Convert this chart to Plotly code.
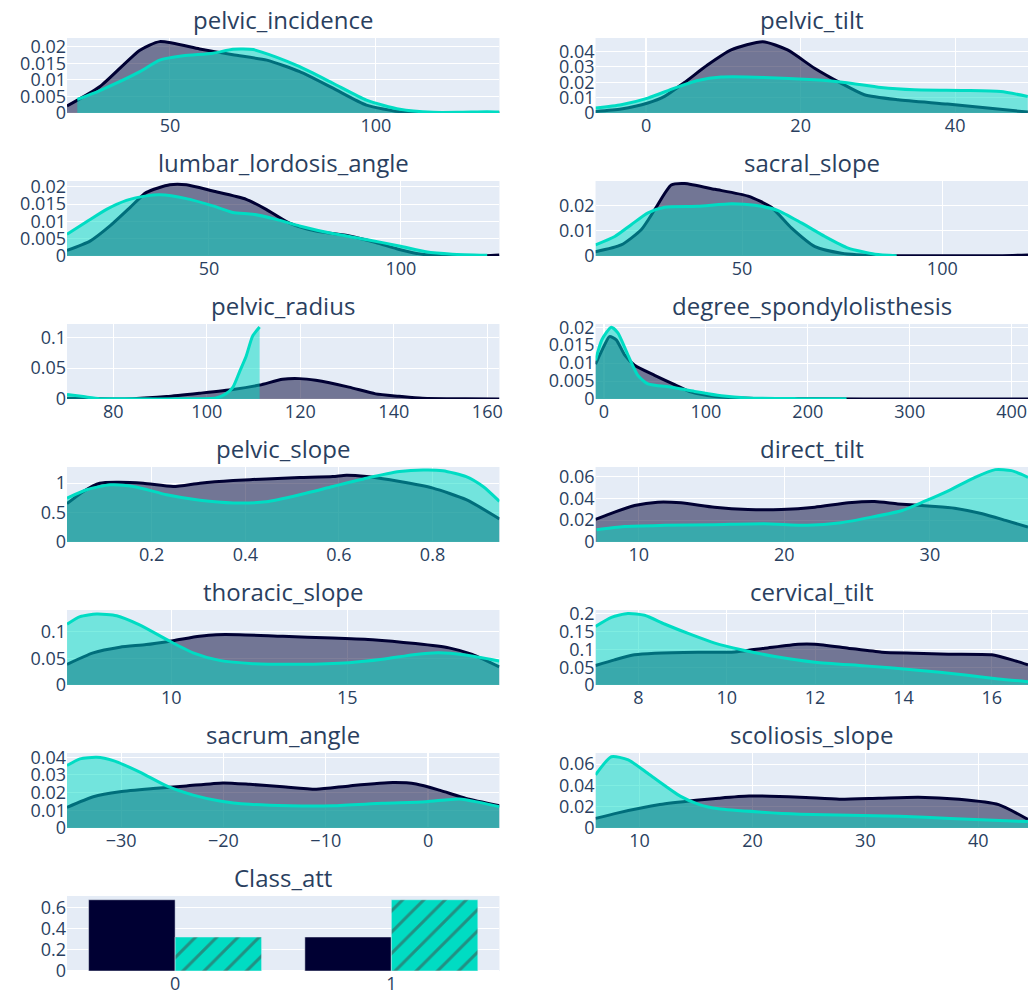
import plotly.graph_objects as go
from plotly.subplots import make_subplots

# ---- density curves, two groups per variable (A = dark, B = teal) ----
pelvic_incidence_a_x = [25, 33, 42.7, 47.5, 57.2, 65.3, 73.5, 81.5, 89.6, 97.7, 105.8, 112, 120, 130]
pelvic_incidence_a_y = [0.0021, 0.008, 0.019, 0.0216, 0.0194, 0.0176, 0.016, 0.0125, 0.0075, 0.0024, 0.0004, 0.0001, 0.0001, 0.0001]
pelvic_incidence_b_x = [27.5, 33, 42.7, 47.5, 53.2, 60.5, 65.3, 70.2, 75.8, 81.5, 89.6, 97.7, 105.8, 113.9, 120, 127, 130]
pelvic_incidence_b_y = [0.0041, 0.0068, 0.0125, 0.016, 0.0173, 0.0181, 0.0193, 0.0192, 0.0169, 0.014, 0.009, 0.0039, 0.0011, 0.0002, 0.0002, 0.0004, 0.0003]

pelvic_tilt_a_x = [-6.55, -3.23, 0.22, 2.38, 4.96, 7.98, 11.0, 15.1, 18.3, 21.8, 25.2, 28.25, 32.6, 39.0, 44.2, 49.4]
pelvic_tilt_a_y = [0.001, 0.0026, 0.0065, 0.0108, 0.0199, 0.0314, 0.0411, 0.0465, 0.0411, 0.0292, 0.0195, 0.0119, 0.0086, 0.0058, 0.0032, 0.0006]
pelvic_tilt_b_x = [-6.55, -3.23, 0.22, 3.67, 6.7, 9.7, 15.3, 21.8, 25.7, 30.4, 34.7, 41.2, 45.9, 49.4]
pelvic_tilt_b_y = [0.0032, 0.0054, 0.0097, 0.0162, 0.0212, 0.0234, 0.0232, 0.0216, 0.0199, 0.0166, 0.0151, 0.0147, 0.014, 0.0108]

lumbar_a_x = [13, 19, 24.2, 29.4, 33.7, 39.8, 44.1, 51.0, 59.7, 64.9, 71.0, 77.9, 86.6, 93.5, 99.6, 105.6, 115.2, 122.1, 125.7]
lumbar_a_y = [0.0016, 0.0043, 0.0087, 0.014, 0.0184, 0.0206, 0.0206, 0.0188, 0.0164, 0.0135, 0.0095, 0.0072, 0.0058, 0.0039, 0.0019, 0.0005, 0.0001, 0.0001, 0.0003]
lumbar_b_x = [13, 18.1, 23.3, 28.5, 33.7, 37.2, 44.1, 51.0, 56.2, 61.4, 67.5, 73.6, 82.2, 90.9, 99.6, 106.5, 113.4, 122.5]
lumbar_b_y = [0.0063, 0.0099, 0.0135, 0.0161, 0.0174, 0.0177, 0.0166, 0.0145, 0.0126, 0.0121, 0.0106, 0.0087, 0.0065, 0.0048, 0.0029, 0.0012, 0.0005, 0.0002]

sacral_a_x = [13.4, 19.8, 24.8, 28.2, 32.3, 35.65, 43.2, 51.5, 57.3, 62.3, 68.2, 74.8, 84.8, 100, 115, 121.4]
sacral_a_y = [0.0017, 0.0044, 0.0104, 0.0184, 0.0281, 0.0287, 0.0264, 0.0237, 0.0193, 0.0111, 0.0037, 0.0011, 0.0001, 0.0001, 0.0001, 0.0004]
sacral_b_x = [13.4, 18.2, 22.3, 26.5, 30.7, 39.0, 47.3, 53.2, 59.0, 64.8, 70.7, 76.5, 83.2, 88.6]
sacral_b_y = [0.0044, 0.0077, 0.0124, 0.0171, 0.0193, 0.0197, 0.0207, 0.0201, 0.018, 0.0131, 0.0077, 0.0031, 0.0007, 0.0001]

radius_a_x = [70.1, 77.1, 84.2, 91.4, 98.5, 105.6, 111.3, 116.2, 119.8, 123.3, 130.4, 136.1, 141.1, 146.1, 155.3, 162.6]
radius_a_y = [0.001, 0.0002, 0.0005, 0.0039, 0.0094, 0.0154, 0.0226, 0.0319, 0.033, 0.0302, 0.0192, 0.0083, 0.0044, 0.0011, 0.0002, 0.0001]
radius_b_x = [70.1, 73.6, 77.1, 84.2, 94.9, 102.0, 104.1, 105.6, 107.0, 108.4, 109.8, 111.3]
radius_b_y = [0.0072, 0.0039, 0.0005, 0.0003, 0.0002, 0.0017, 0.0083, 0.0193, 0.044, 0.0688, 0.1018, 0.1166]

spondy_a_x = [-8.2, -1.0, 5.5, 12.1, 20.3, 30.1, 49.7, 69.4, 85.8, 108.6, 141.3, 206.8, 300, 416]
spondy_a_y = [0.0097, 0.0141, 0.0174, 0.0165, 0.0123, 0.0094, 0.0066, 0.004, 0.0019, 0.0007, 0.0002, 0.00005, 0.00003, 0.00002]
spondy_b_x = [-8.2, -2.0, 7.2, 13.7, 23.5, 33.3, 43.2, 66.1, 89.0, 115.2, 141.3, 190.4, 238.0]
spondy_b_y = [0.0108, 0.0165, 0.02, 0.0184, 0.0123, 0.0066, 0.0042, 0.0033, 0.0021, 0.0009, 0.0003, 0.0001, 0.00005]

pslope_a_x = [0.019, 0.054, 0.089, 0.125, 0.182, 0.246, 0.303, 0.374, 0.445, 0.516, 0.587, 0.616, 0.659, 0.73, 0.801, 0.872, 0.943]
pslope_a_y = [0.652, 0.86, 1.0, 1.017, 1.0, 0.944, 1.0, 1.045, 1.073, 1.095, 1.112, 1.135, 1.112, 1.028, 0.916, 0.719, 0.393]
pslope_b_x = [0.019, 0.061, 0.111, 0.161, 0.232, 0.303, 0.374, 0.445, 0.516, 0.587, 0.659, 0.73, 0.78, 0.822, 0.872, 0.908, 0.943]
pslope_b_y = [0.747, 0.888, 0.972, 0.944, 0.803, 0.708, 0.663, 0.685, 0.803, 0.944, 1.084, 1.197, 1.225, 1.213, 1.112, 0.944, 0.691]

dtilt_a_x = [7.03, 8.34, 9.71, 11.3, 12.9, 15.2, 17.5, 19.8, 22.1, 24.4, 26.2, 27.8, 30.1, 31.7, 33.6, 35.2, 36.74]
dtilt_a_y = [0.0206, 0.0273, 0.0333, 0.0364, 0.0358, 0.0318, 0.0297, 0.0297, 0.0318, 0.0358, 0.037, 0.0348, 0.0327, 0.0309, 0.0258, 0.0197, 0.0136]
dtilt_b_x = [7.1, 9.0, 11.8, 15.2, 18.6, 21.6, 23.9, 26.0, 28.1, 29.6, 31.3, 33.1, 34.5, 35.6, 36.74]
dtilt_b_y = [0.0112, 0.0142, 0.0152, 0.0158, 0.0167, 0.0152, 0.0176, 0.0227, 0.0288, 0.037, 0.047, 0.0591, 0.0661, 0.0652, 0.0591]

thoracic_a_x = [7.04, 7.78, 8.54, 9.29, 10.05, 10.8, 11.28, 11.94, 13.17, 14.58, 15.72, 16.94, 17.89, 18.55, 19.32]
thoracic_a_y = [0.0387, 0.0601, 0.0706, 0.0755, 0.0828, 0.0908, 0.0939, 0.0939, 0.0908, 0.0877, 0.0847, 0.0773, 0.0693, 0.0571, 0.0337]
thoracic_b_x = [7.04, 7.41, 7.88, 8.45, 9.1, 9.96, 10.62, 11.37, 12.32, 13.64, 15.06, 16.0, 16.94, 17.6, 18.36, 19.32]
thoracic_b_y = [0.1135, 0.1276, 0.1325, 0.1294, 0.1123, 0.0816, 0.0601, 0.046, 0.0399, 0.0387, 0.0417, 0.0479, 0.0571, 0.0601, 0.0558, 0.0448]

cervical_a_x = [7.03, 7.46, 7.91, 8.37, 9.35, 10.11, 10.86, 11.62, 12.0, 12.75, 13.51, 14.26, 15.02, 16.0, 16.46, 16.82]
cervical_a_y = [0.0547, 0.0707, 0.0849, 0.0896, 0.0924, 0.0924, 0.1037, 0.115, 0.115, 0.1037, 0.0924, 0.0896, 0.0868, 0.0849, 0.0707, 0.0566]
cervical_b_x = [7.03, 7.39, 7.76, 8.14, 8.59, 9.2, 9.73, 10.33, 11.09, 12.0, 13.13, 14.26, 15.4, 16.15, 16.82]
cervical_b_y = [0.165, 0.1905, 0.2009, 0.1961, 0.1716, 0.1415, 0.1179, 0.099, 0.0802, 0.0641, 0.0538, 0.0424, 0.0283, 0.017, 0.0094]

sacrum_a_x = [-35.29, -32.72, -30.12, -26.87, -23.61, -20.04, -17.44, -14.19, -10.93, -7.68, -3.45, -1.17, 1.1, 3.7, 6.97]
sacrum_a_y = [0.0117, 0.0177, 0.0205, 0.0223, 0.0238, 0.0255, 0.0247, 0.0233, 0.0219, 0.0238, 0.0257, 0.0249, 0.0214, 0.0167, 0.0126]
sacrum_b_x = [-35.29, -34.02, -32.39, -30.77, -28.17, -25.56, -22.96, -20.36, -17.44, -13.53, -9.31, -4.43, -0.19, 3.05, 5.0, 6.97]
sacrum_b_y = [0.0353, 0.0391, 0.04, 0.0381, 0.0316, 0.0238, 0.0186, 0.0153, 0.0134, 0.0126, 0.0126, 0.014, 0.0149, 0.0164, 0.0145, 0.0121]

scoliosis_a_x = [6.1, 8, 11.8, 15, 17, 19.7, 24.2, 27.7, 31.2, 34.7, 38.3, 41.8, 44.4]
scoliosis_a_y = [0.009, 0.014, 0.022, 0.026, 0.028, 0.03, 0.029, 0.027, 0.028, 0.029, 0.027, 0.022, 0.008]
scoliosis_b_x = [6.1, 7.5, 9, 10.9, 13.6, 15.3, 17, 20.6, 24.2, 28.6, 33, 37.5, 41.9, 44.4]
scoliosis_b_y = [0.05, 0.067, 0.064, 0.05, 0.03, 0.022, 0.018, 0.015, 0.013, 0.012, 0.011, 0.009, 0.007, 0.006]

# ---- class proportions ----
class_labels = ["0", "1"]
class_a = [0.677, 0.323]
class_b = [0.323, 0.677]

titles = ["pelvic_incidence", "pelvic_tilt", "lumbar_lordosis_angle", "sacral_slope",
          "pelvic_radius", "degree_spondylolisthesis", "pelvic_slope", "direct_tilt",
          "thoracic_slope", "cervical_tilt", "sacrum_angle", "scoliosis_slope", "Class_att"]

# per panel: curves, x range, x tick step, y top, y tick step
panels = [
    (pelvic_incidence_a_x, pelvic_incidence_a_y, pelvic_incidence_b_x, pelvic_incidence_b_y, [25, 130], 50, 0.0227, 0.005),
    (pelvic_tilt_a_x, pelvic_tilt_a_y, pelvic_tilt_b_x, pelvic_tilt_b_y, [-6.55, 49.43], 20, 0.0489, 0.01),
    (lumbar_a_x, lumbar_a_y, lumbar_b_x, lumbar_b_y, [13, 125.7], 50, 0.0217, 0.005),
    (sacral_a_x, sacral_a_y, sacral_b_x, sacral_b_y, [13.4, 121.4], 50, 0.0297, 0.01),
    (radius_a_x, radius_a_y, radius_b_x, radius_b_y, [70.1, 162.6], 20, 0.1215, 0.05),
    (spondy_a_x, spondy_a_y, spondy_b_x, spondy_b_y, [-8.2, 416], 100, 0.0209, 0.005),
    (pslope_a_x, pslope_a_y, pslope_b_x, pslope_b_y, [0.019, 0.943], 0.2, 1.275, 0.5),
    (dtilt_a_x, dtilt_a_y, dtilt_b_x, dtilt_b_y, [7.03, 36.74], 10, 0.0685, 0.02),
    (thoracic_a_x, thoracic_a_y, thoracic_b_x, thoracic_b_y, [7.038, 19.324], 5, 0.14, 0.05),
    (cervical_a_x, cervical_a_y, cervical_b_x, cervical_b_y, [7.03, 16.82], 2, 0.211, 0.05),
    (sacrum_a_x, sacrum_a_y, sacrum_b_x, sacrum_b_y, [-35.29, 6.97], 10, 0.0424, 0.01),
    (scoliosis_a_x, scoliosis_a_y, scoliosis_b_x, scoliosis_b_y, [6.1, 44.4], 10, 0.0705, 0.02),
]

DARK = "#000033"
TEAL = "#00dcc3"

fig = make_subplots(
    rows=7, cols=2, subplot_titles=titles,
    vertical_spacing=0.0729, horizontal_spacing=0.1,
    specs=[[{}, {}]] * 6 + [[{}, None]],
)

for i, (ax, ay, bx, by, xr, xd, ytop, yd) in enumerate(panels):
    r, c = i // 2 + 1, i % 2 + 1
    fig.add_trace(go.Scatter(x=ax, y=ay, mode="lines", fill="tozeroy",
                             line=dict(color=DARK, width=3, shape="spline", smoothing=0.6)), r, c)
    fig.add_trace(go.Scatter(x=bx, y=by, mode="lines", fill="tozeroy",
                             line=dict(color=TEAL, width=3, shape="spline", smoothing=0.6)), r, c)
    fig.update_xaxes(range=xr, dtick=xd, row=r, col=c)
    fig.update_yaxes(range=[0, ytop], dtick=yd, row=r, col=c)

fig.add_trace(go.Bar(x=class_labels, y=class_a, marker=dict(color=DARK)), 7, 1)
fig.add_trace(go.Bar(x=class_labels, y=class_b,
                     marker=dict(color=TEAL, pattern=dict(shape="/", size=15, solidity=0.2))), 7, 1)
fig.update_yaxes(dtick=0.2, row=7, col=1)

fig.update_layout(
    width=1031, height=994,
    margin=dict(l=67, r=3, t=38, b=23),
    showlegend=False, barmode="group",
    font=dict(size=18),
)
fig.update_annotations(font_size=24)
fig.update_xaxes(automargin=False)
fig.update_yaxes(automargin=False)

fig.write_html("out.html")
